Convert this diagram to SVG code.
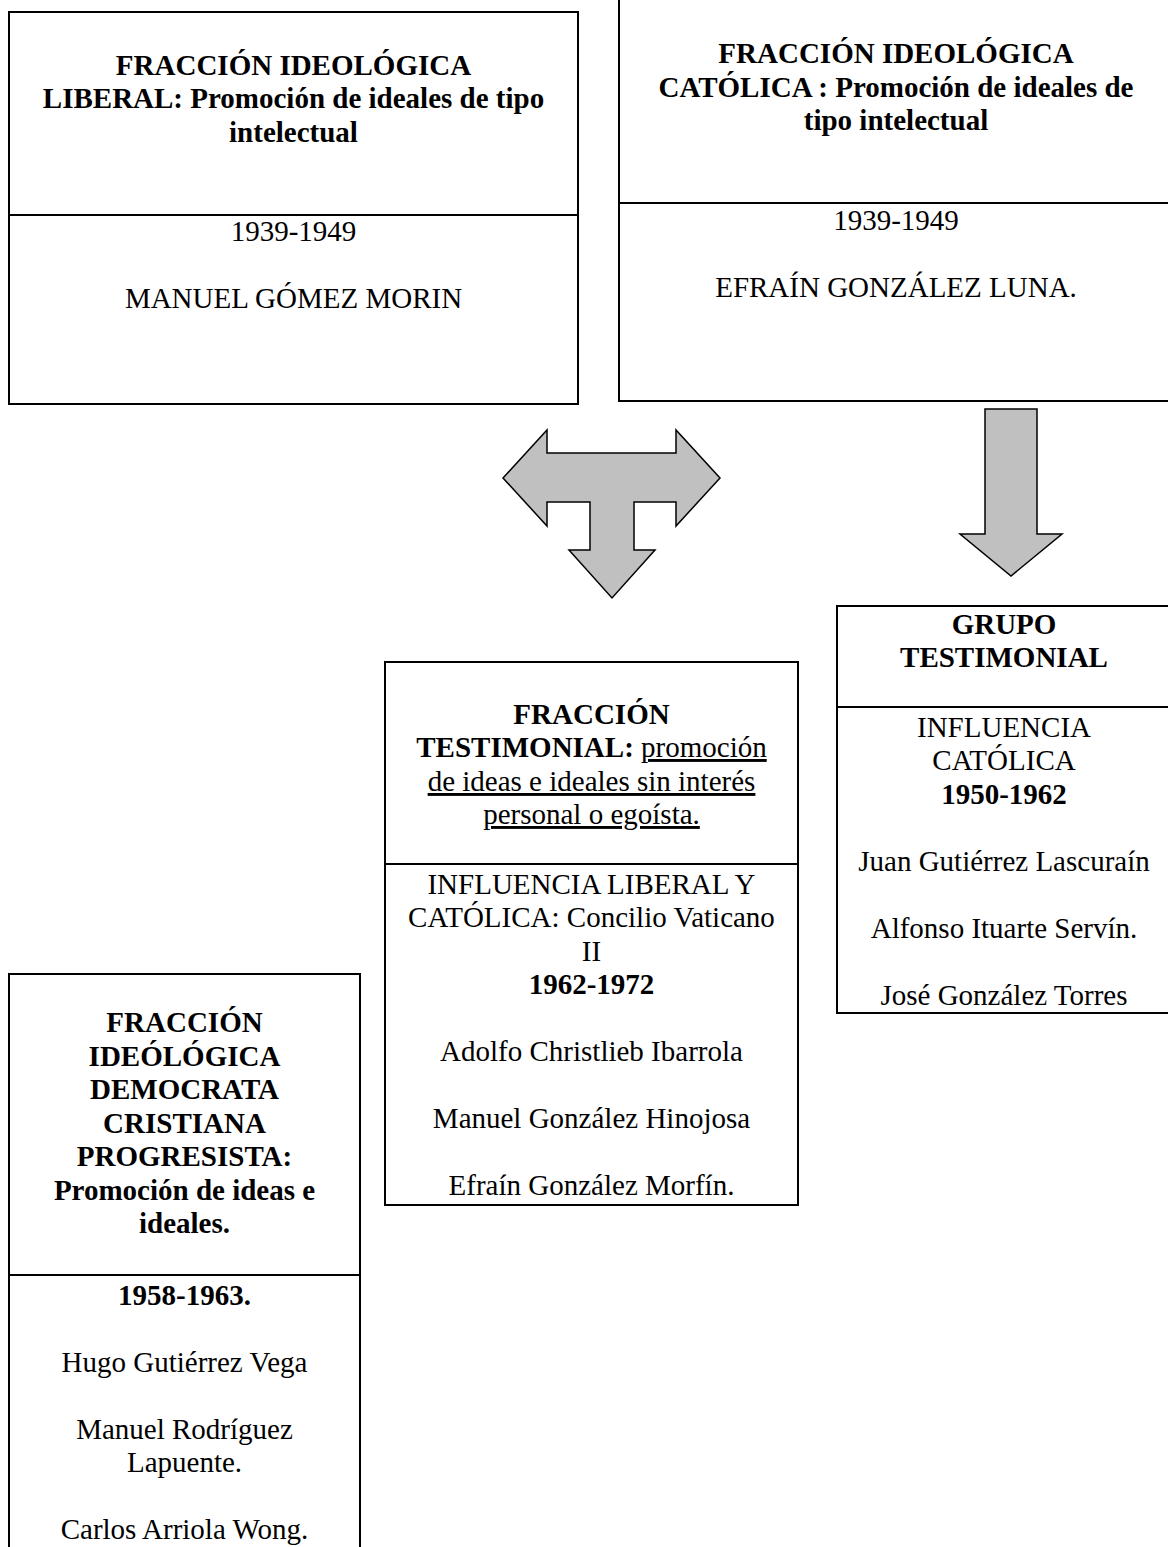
<svg xmlns="http://www.w3.org/2000/svg" width="1168" height="1547" viewBox="0 0 1168 1547">
<style>
.box{fill:#fff;stroke:#000;stroke-width:2}
.dv{stroke:#000;stroke-width:2}
.t{font-family:"Liberation Serif","Times New Roman",serif;font-size:29px;fill:#000;text-anchor:middle}
.b{font-weight:bold}
.u{text-decoration:underline}
.arrow{fill:#c0c0c0;stroke:#000;stroke-width:1.5;stroke-linejoin:miter}
</style>
<rect width="1168" height="1547" fill="#fff"/>
<g id="connectors">
<polygon class="arrow" points="503,478 547,430 547,453 676,453 676,430 720,478 676,526 676,502 634,502 634,550 655,550 612,598 569,550 590,550 590,502 547,502 547,526"/>
<polygon class="arrow" points="985,409 1037,409 1037,534 1062,534 1011,576 960,534 985,534"/>
</g>
<g id="node-liberal">
<rect class="box" x="9" y="12" width="569" height="392"/>
<line class="dv" x1="9" y1="215" x2="578" y2="215"/>
<text class="t b" x="293.5" y="75">FRACCIÓN IDEOLÓGICA</text>
<text class="t b" x="293.5" y="108">LIBERAL: Promoción de ideales de tipo</text>
<text class="t b" x="293.5" y="142">intelectual</text>
<text class="t" x="293.5" y="241">1939-1949</text>
<text class="t" x="293.5" y="308">MANUEL GÓMEZ MORIN</text>
</g>
<g id="node-catolica">
<rect class="box" x="619" y="-3" width="554" height="404"/>
<line class="dv" x1="619" y1="203" x2="1173" y2="203"/>
<text class="t b" x="896" y="63">FRACCIÓN IDEOLÓGICA</text>
<text class="t b" x="896" y="97">CATÓLICA : Promoción de ideales de</text>
<text class="t b" x="896" y="130">tipo intelectual</text>
<text class="t" x="896" y="230">1939-1949</text>
<text class="t" x="896" y="297">EFRAÍN GONZÁLEZ LUNA.</text>
</g>
<g id="node-grupo-testimonial">
<rect class="box" x="837" y="606" width="335" height="407"/>
<line class="dv" x1="837" y1="707" x2="1172" y2="707"/>
<text class="t b" x="1004" y="634">GRUPO</text>
<text class="t b" x="1004" y="667">TESTIMONIAL</text>
<text class="t" x="1004" y="737">INFLUENCIA</text>
<text class="t" x="1004" y="770">CATÓLICA</text>
<text class="t b" x="1004" y="804">1950-1962</text>
<text class="t" x="1004" y="871">Juan Gutiérrez Lascuraín</text>
<text class="t" x="1004" y="938">Alfonso Ituarte Servín.</text>
<text class="t" x="1004" y="1005">José González Torres</text>
</g>
<g id="node-fraccion-testimonial">
<rect class="box" x="385" y="662" width="413" height="543"/>
<line class="dv" x1="385" y1="864" x2="798" y2="864"/>
<text class="t b" x="591.5" y="724">FRACCIÓN</text>
<text class="t" x="591.5" y="757"><tspan class="b">TESTIMONIAL:</tspan> <tspan class="u">promoción</tspan></text>
<text class="t u" x="591.5" y="791">de ideas e ideales sin interés</text>
<text class="t u" x="591.5" y="824">personal o egoísta.</text>
<text class="t" x="591.5" y="894">INFLUENCIA LIBERAL Y</text>
<text class="t" x="591.5" y="927">CATÓLICA: Concilio Vaticano</text>
<text class="t" x="591.5" y="961">II</text>
<text class="t b" x="591.5" y="994">1962-1972</text>
<text class="t" x="591.5" y="1061">Adolfo Christlieb Ibarrola</text>
<text class="t" x="591.5" y="1128">Manuel González Hinojosa</text>
<text class="t" x="591.5" y="1195">Efraín González Morfín.</text>
</g>
<g id="node-democrata-cristiana">
<rect class="box" x="9" y="974" width="351" height="620"/>
<line class="dv" x1="9" y1="1275" x2="360" y2="1275"/>
<text class="t b" x="184.5" y="1032">FRACCIÓN</text>
<text class="t b" x="184.5" y="1066">IDEÓLÓGICA</text>
<text class="t b" x="184.5" y="1099">DEMOCRATA</text>
<text class="t b" x="184.5" y="1133">CRISTIANA</text>
<text class="t b" x="184.5" y="1166">PROGRESISTA:</text>
<text class="t b" x="184.5" y="1200">Promoción de ideas e</text>
<text class="t b" x="184.5" y="1233">ideales.</text>
<text class="t b" x="184.5" y="1305">1958-1963.</text>
<text class="t" x="184.5" y="1372">Hugo Gutiérrez Vega</text>
<text class="t" x="184.5" y="1439">Manuel Rodríguez</text>
<text class="t" x="184.5" y="1472">Lapuente.</text>
<text class="t" x="184.5" y="1539">Carlos Arriola Wong.</text>
</g>
</svg>
